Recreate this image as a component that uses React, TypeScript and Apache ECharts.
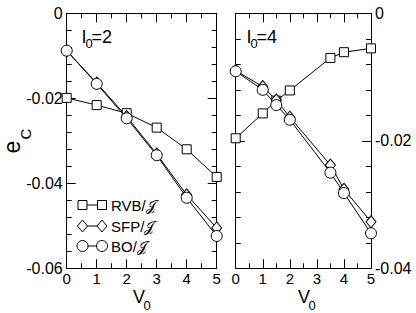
import React, { useEffect, useRef } from 'react';
import * as echarts from 'echarts';

const FONT = '"Liberation Sans", Arial, Helvetica, sans-serif';

// Left panel (I0 = 2)
const xLeft = [0, 1, 2, 3, 4, 5];
const rvbLeft = [-0.0199, -0.0216, -0.0235, -0.0269, -0.032, -0.0385];
const sfpLeft = [-0.0088, -0.0164, -0.0243, -0.0331, -0.0427, -0.0505];
const boLeft = [-0.0088, -0.0166, -0.0247, -0.0334, -0.0434, -0.0524];

// Right panel (I0 = 4)
const xRight = [0, 1, 1.5, 2, 3.5, 4, 5];
const rvbRight = [-0.0196, -0.0157, -0.0137, -0.0121, -0.007, -0.0061, -0.0055];
const sfpRight = [-0.009, -0.0115, -0.0136, -0.0163, -0.0238, -0.0276, -0.0327];
const boRight = [-0.0091, -0.012, -0.0144, -0.0167, -0.025, -0.0282, -0.0345];

const seriesNames = ['RVB/𝒥', 'SFP/𝒥', 'BO/𝒥'];
const symbols = ['rect', 'diamond', 'circle'];
const symbolSizes: any[] = [9, [10, 12], 11];
const panelLabels = ['2', '4'];
const yAxisTitle = ['e', 'C'];

const xMin = 0, xMax = 5, xInterval = 1;
const leftYMin = -0.06, rightYMin = -0.04, yMax = 0, yInterval = 0.02;

function pairs(xs: number[], ys: number[]) {
  return xs.map((x, i) => [x, ys[i]]);
}

const fmt = (v: number) => (Math.abs(v) < 1e-9 ? '0' : v.toFixed(2));

function xAxis(gridIndex: number, position: 'top' | 'bottom', showLabel: boolean) {
  return {
    type: 'value', gridIndex, position, min: xMin, max: xMax, interval: xInterval,
    axisLine: { show: true, onZero: false, lineStyle: { color: '#000', width: 1 } },
    axisTick: { show: true, inside: true, length: 9, lineStyle: { color: '#000' } },
    minorTick: { show: true, splitNumber: 2, length: 5, lineStyle: { color: '#000' } },
    splitLine: { show: false },
    axisLabel: { show: showLabel, color: '#000', fontSize: 15, fontFamily: FONT, margin: 3 },
  };
}

function yAxis(gridIndex: number, position: 'left' | 'right', min: number, showLabel: boolean) {
  return {
    type: 'value', gridIndex, position, min, max: yMax, interval: yInterval,
    axisLine: { show: true, onZero: false, lineStyle: { color: '#000', width: 1 } },
    axisTick: { show: true, inside: true, length: 9, lineStyle: { color: '#000' } },
    minorTick: { show: true, splitNumber: 5, length: 5, lineStyle: { color: '#000' } },
    splitLine: { show: false },
    axisLabel: { show: showLabel, color: '#000', fontSize: 16, fontFamily: FONT, margin: 4, formatter: fmt },
  };
}

function lineSeries(name: string, k: number, xIdx: number, yIdx: number, data: number[][]) {
  return {
    type: 'line', name, xAxisIndex: xIdx, yAxisIndex: yIdx, data,
    symbol: symbols[k], symbolSize: symbolSizes[k], showSymbol: true,
    itemStyle: { color: '#fff', borderColor: '#000', borderWidth: 1 },
    lineStyle: { color: '#000', width: 1 },
    emphasis: { disabled: true },
  };
}

function legendGraphics() {
  const rows = [205, 226, 246];
  const x1 = 82.5, x2 = 102;
  const els: any[] = [];
  rows.forEach((y, k) => {
    els.push({ type: 'line', shape: { x1, y1: y, x2, y2: y }, style: { stroke: '#000', lineWidth: 1 }, z: 10 });
    [x1, x2].forEach((cx) => {
      if (k === 0) els.push({ type: 'rect', shape: { x: cx - 4.5, y: y - 4.5, width: 9, height: 9 }, style: { fill: '#fff', stroke: '#000', lineWidth: 1 }, z: 11 });
      else if (k === 1) els.push({ type: 'polygon', shape: { points: [[cx, y - 6], [cx + 5, y], [cx, y + 6], [cx - 5, y]] }, style: { fill: '#fff', stroke: '#000', lineWidth: 1 }, z: 11 });
      else els.push({ type: 'circle', shape: { cx, cy: y, r: 5.5 }, style: { fill: '#fff', stroke: '#000', lineWidth: 1 }, z: 11 });
    });
    els.push({ type: 'text', x: 111, y, style: { text: seriesNames[k], fontSize: 15, fontFamily: FONT, fill: '#000', align: 'left', verticalAlign: 'middle' }, z: 11 });
  });
  return els;
}

function panelLabel(x: number, val: string) {
  return [
    { type: 'text', x, y: 37, style: { text: 'I', fontSize: 18, fontFamily: FONT, fill: '#000', align: 'left', verticalAlign: 'middle' } },
    { type: 'text', x: x + 4, y: 43.5, style: { text: '0', fontSize: 13, fontFamily: FONT, fill: '#000', align: 'left', verticalAlign: 'middle' } },
    { type: 'text', x: x + 10, y: 37, style: { text: '=' + val, fontSize: 18, fontFamily: FONT, fill: '#000', align: 'left', verticalAlign: 'middle' } },
  ];
}

function vLabel(x: number) {
  return [
    { type: 'text', x, y: 297, style: { text: 'V', fontSize: 18, fontFamily: FONT, fill: '#000', align: 'left', verticalAlign: 'middle' } },
    { type: 'text', x: x + 10.5, y: 305, style: { text: '0', fontSize: 13, fontFamily: FONT, fill: '#000', align: 'left', verticalAlign: 'middle' } },
  ];
}

export default function App() {
  const ref = useRef<HTMLDivElement>(null);
  useEffect(() => {
    if (!ref.current) return;
    const chart = echarts.init(ref.current, undefined, { renderer: 'svg' });
    chart.setOption({
      animation: false,
      backgroundColor: '#fff',
      grid: [
        { left: 66.7, top: 13.3, width: 150, height: 255, outerBoundsMode: 'none' },
        { left: 235.7, top: 13.3, width: 135.3, height: 255, outerBoundsMode: 'none' },
      ],
      xAxis: [xAxis(0, 'bottom', true), xAxis(0, 'top', false), xAxis(1, 'bottom', true), xAxis(1, 'top', false)],
      yAxis: [
        yAxis(0, 'left', leftYMin, true),
        yAxis(0, 'right', leftYMin, false),
        yAxis(1, 'left', rightYMin, false),
        yAxis(1, 'right', rightYMin, true),
      ],
      series: [
        lineSeries(seriesNames[0], 0, 0, 0, pairs(xLeft, rvbLeft)),
        lineSeries(seriesNames[1], 1, 0, 0, pairs(xLeft, sfpLeft)),
        lineSeries(seriesNames[2], 2, 0, 0, pairs(xLeft, boLeft)),
        lineSeries(seriesNames[0], 0, 2, 2, pairs(xRight, rvbRight)),
        lineSeries(seriesNames[1], 1, 2, 2, pairs(xRight, sfpRight)),
        lineSeries(seriesNames[2], 2, 2, 2, pairs(xRight, boRight)),
      ],
      graphic: [
        ...legendGraphics(),
        ...panelLabel(81.5, panelLabels[0]),
        ...panelLabel(246.5, panelLabels[1]),
        ...vLabel(133),
        ...vLabel(298),
        { type: 'text', x: 12, y: 147, rotation: Math.PI / 2, style: { text: yAxisTitle[0], fontSize: 23, fontFamily: FONT, fill: '#000', align: 'center', verticalAlign: 'middle' } },
        { type: 'text', x: 25, y: 134, rotation: Math.PI / 2, style: { text: yAxisTitle[1], fontSize: 15, fontFamily: FONT, fill: '#000', align: 'center', verticalAlign: 'middle' } },
      ],
    });
    return () => chart.dispose();
  }, []);
  return <div ref={ref} style={{ position: 'fixed', left: 0, top: 0, width: 416, height: 313 }} />;
}
